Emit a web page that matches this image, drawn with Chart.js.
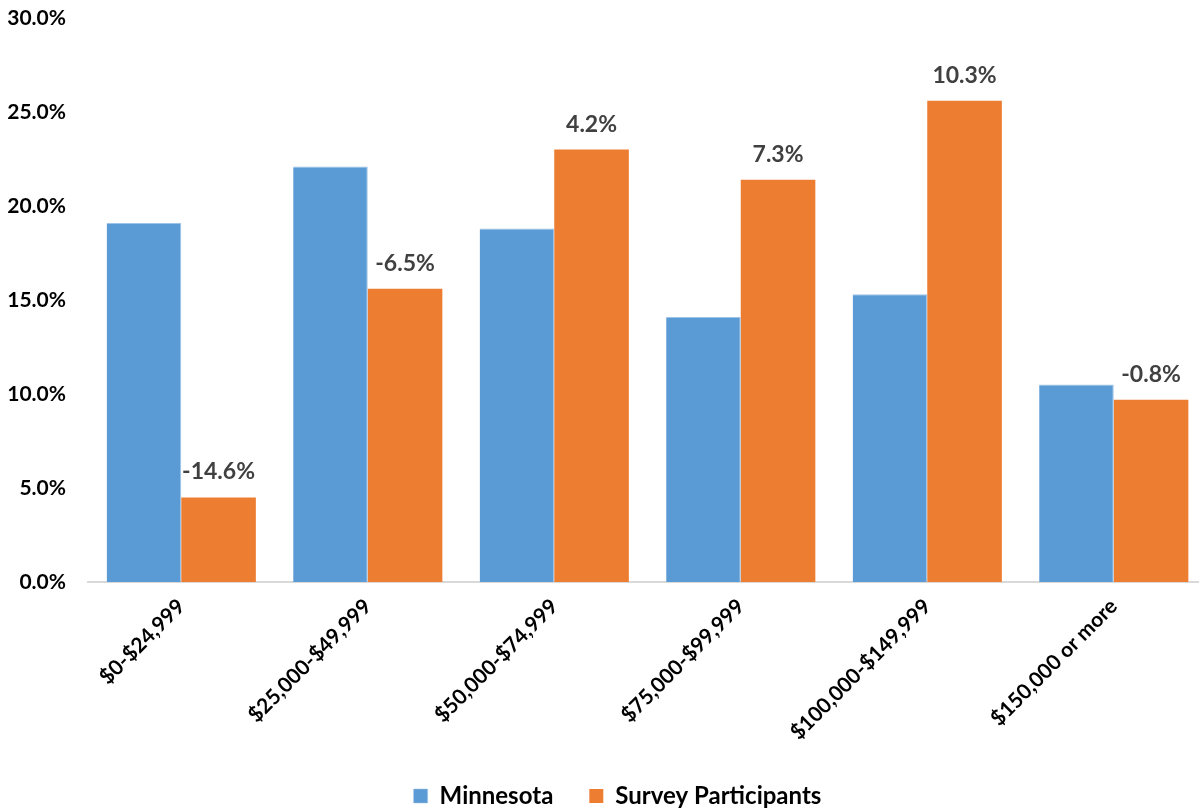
<!DOCTYPE html>
<html>
<head>
<meta charset="utf-8">
<script src="https://cdn.jsdelivr.net/npm/chart.js@4.4.1/dist/chart.umd.min.js"></script>
<style>
  html, body { margin: 0; padding: 0; background: #fff; overflow: hidden; }
  #wrap { width: 1207px; height: 808px; position: relative; }
</style>
</head>
<body>
<div id="wrap"><canvas id="chart"></canvas></div>
<script>
const incomeBands = ['$0-$24,999', '$25,000-$49,999', '$50,000-$74,999', '$75,000-$99,999', '$100,000-$149,999', '$150,000 or more'];
const minnesota = [19.1, 22.1, 18.8, 14.1, 15.3, 10.5];
const surveyParticipants = [4.5, 15.6, 23.0, 21.4, 25.6, 9.7];
const gapLabels = ['-14.6%', '-6.5%', '4.2%', '7.3%', '10.3%', '-0.8%'];
const yTicks = [0, 5, 10, 15, 20, 25, 30];

const FONT = 'Lato, "Open Sans", sans-serif';

// writes the gap (survey minus state) above each orange bar
const gapLabelPlugin = {
  id: 'gapLabels',
  afterDatasetsDraw(chart) {
    const ctx = chart.ctx;
    const meta = chart.getDatasetMeta(1);
    ctx.save();
    ctx.font = 'bold 23px ' + FONT;
    ctx.fillStyle = '#404040';
    ctx.textAlign = 'center';
    ctx.textBaseline = 'bottom';
    meta.data.forEach((bar, i) => {
      ctx.fillText(gapLabels[i], bar.x, bar.y - 14);
    });
    ctx.restore();
  }
};

// nudge the legend a bit right of the canvas centre
const legendShift = {
  id: 'legendShift',
  afterLayout(chart) {
    if (!chart.legend) return;
    chart.legend.left += 14;
    chart.legend.right += 14;
  }
};

new Chart(document.getElementById('chart'), {
  type: 'bar',
  data: {
    labels: incomeBands,
    datasets: [
      { label: 'Minnesota', data: minnesota, backgroundColor: '#5B9BD5', borderColor: '#9DC3E6', borderWidth: { top: 1, right: 1 }, borderSkipped: 'bottom' },
      { label: 'Survey Participants', data: surveyParticipants, backgroundColor: '#ED7D31' }
    ]
  },
  options: {
    responsive: true,
    maintainAspectRatio: false,
    animation: false,
    layout: { padding: { top: 18, right: 0, left: 0, bottom: -10 } },
    datasets: { bar: { categoryPercentage: 0.8, barPercentage: 1.0 } },
    plugins: {
      legend: {
        position: 'bottom',
        labels: {
          boxWidth: 14, boxHeight: 14, padding: 36,
          color: '#000',
          font: { family: FONT, size: 24, weight: 'bold' }
        }
      },
      tooltip: { enabled: false }
    },
    scales: {
      y: {
        min: 0, max: 30,
        afterBuildTicks: (axis) => { axis.ticks = yTicks.map(v => ({ value: v })); },
        afterFit: (axis) => { axis.width = 88; axis.paddingTop = 0; axis.paddingBottom = 0; },
        grid: { display: false, drawTicks: false },
        border: { display: false },
        ticks: {
          padding: 22,
          color: '#000',
          font: { family: FONT, size: 21, weight: 'bold' },
          callback: v => v.toFixed(1) + '%'
        }
      },
      x: {
        afterFit: (axis) => { axis.height = 166; },
        grid: { display: false, drawTicks: false },
        border: { display: true, color: '#D9D9D9', width: 2 },
        ticks: {
          padding: 12,
          minRotation: 45, maxRotation: 45,
          color: '#000',
          font: { family: FONT, size: 21, weight: 'bold' }
        }
      }
    }
  },
  plugins: [gapLabelPlugin, legendShift]
});
</script>
</body>
</html>
